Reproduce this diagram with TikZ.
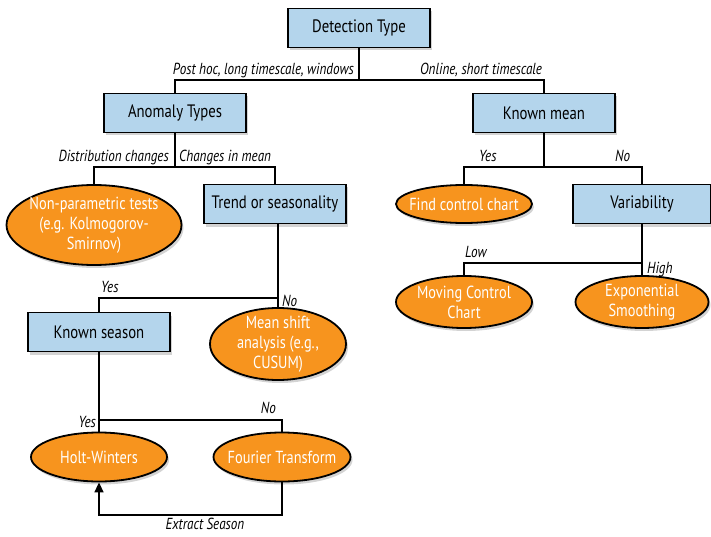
\documentclass[tikz,border=0pt]{standalone}
\usepackage{fontspec}
\setmainfont[FakeStretch=0.82]{PT Sans}
\usepackage{tikz}
\usetikzlibrary{shapes.geometric,shadows,arrows.meta}

\definecolor{boxblue}{HTML}{B4D5EC}
\definecolor{ovalorange}{HTML}{F7941E}

\begin{document}
\begin{tikzpicture}[x=1pt,y=-1pt,
  decision/.style={draw=black, line width=1.8pt, fill=boxblue, minimum width=142pt, minimum height=39pt,
    font=\fontsize{18}{20}\selectfont, drop shadow={shadow xshift=2pt, shadow yshift=-3pt, opacity=0.35}},
  method/.style={ellipse, draw=black, line width=1.8pt, fill=ovalorange, text=white, inner xsep=-40pt, inner ysep=-20pt, align=center,
    font=\fontsize{17.5}{20}\selectfont, drop shadow={shadow xshift=2pt, shadow yshift=-3pt, opacity=0.35}},
  branch/.style={font=\itshape\fontsize{16}{17}\selectfont, inner sep=0pt},
  link/.style={line width=1.6pt}]
\useasboundingbox (0,0) rectangle (711,537);

% top level
\node[decision] (det) at (359,28) {Detection Type};
\node[decision] (anom) at (175,113) {Anomaly Types};
\node[decision] (kmean) at (544,113) {Known mean};
\coordinate (j1) at (359,80);
\draw[link] (det) -- (j1);
\draw[link] (anom.north) |- (j1) -| (kmean.north);
\node[branch, anchor=base east] (l1) at (354,75) {Post hoc, long timescale, windows};
\node[branch, anchor=base west] (l2) at (420,75) {Online, short timescale};

% post hoc side
\node[method, minimum width=175pt, minimum height=80pt] (nonpar) at (94,225) {Non-parametric tests\\(e.g. Kolmogorov-\\Smirnov)};
\node[decision] (trend) at (275,204) {Trend or seasonality};
\coordinate (j2) at (175,167);
\draw[link] (anom) -- (j2);
\draw[link] (nonpar.north) |- (j2) -| (trend.north);
\node[branch, anchor=base east] (l3) at (169,162) {Distribution changes};
\node[branch, anchor=base west] (l4) at (179,162) {Changes in mean};

\node[decision] (kseason) at (99,332) {Known season};
\node[method, minimum width=136pt, minimum height=72pt] (mshift) at (278,344) {Mean shift\\analysis (e.g.,\\CUSUM)};
\coordinate (j3) at (278,298);
\draw[link] (trend.south -| j3) -- (j3) -- (mshift.north);
\draw[link] (j3) -| (kseason.north);
\node[branch, anchor=base west] (l5) at (101,292) {Yes};
\node[branch, anchor=base west] (l6) at (282,306) {No};

\node[method, minimum width=136pt, minimum height=49pt] (holt) at (99,457) {Holt-Winters};
\node[method, minimum width=137pt, minimum height=49pt] (fourier) at (282,457) {Fourier Transform};
\coordinate (j4) at (99,420);
\draw[link] (kseason) -- (holt);
\draw[link] (j4) -| (fourier.north);
\node[branch, anchor=base east] (l7) at (96,427) {Yes};
\node[branch, anchor=base east] (l8) at (276,413) {No};

\coordinate (ex) at (205,515);
\draw[link, -{Triangle[width=9pt,length=10pt]}] (fourier.south) |- (ex) -| (holt.south);
\node[branch, anchor=north] (l9) at (ex) [yshift=-3pt] {Extract Season};

% online side
\node[method, minimum width=136pt, minimum height=38pt] (findcc) at (464,204) {Find control chart};
\node[decision, minimum width=138pt] (var) at (642,204) {Variability};
\coordinate (j5) at (544,167);
\draw[link] (kmean) -- (j5);
\draw[link] (findcc.north) |- (j5) -| (var.north);
\node[branch, anchor=base west] (l10) at (479,162) {Yes};
\node[branch, anchor=base west] (l11) at (615,162) {No};

\node[method, minimum width=136pt, minimum height=52pt] (moving) at (464,302) {Moving Control\\Chart};
\node[method, minimum width=133pt, minimum height=52pt] (expo) at (642,302) {Exponential\\Smoothing};
\coordinate (j6) at (642,263);
\draw[link] (var) -- (expo);
\draw[link] (moving.north) |- (j6);
\node[branch, anchor=base west] (l12) at (465,257) {Low};
\node[branch, anchor=base west] (l13) at (647,273) {High};
\end{tikzpicture}
\end{document}
